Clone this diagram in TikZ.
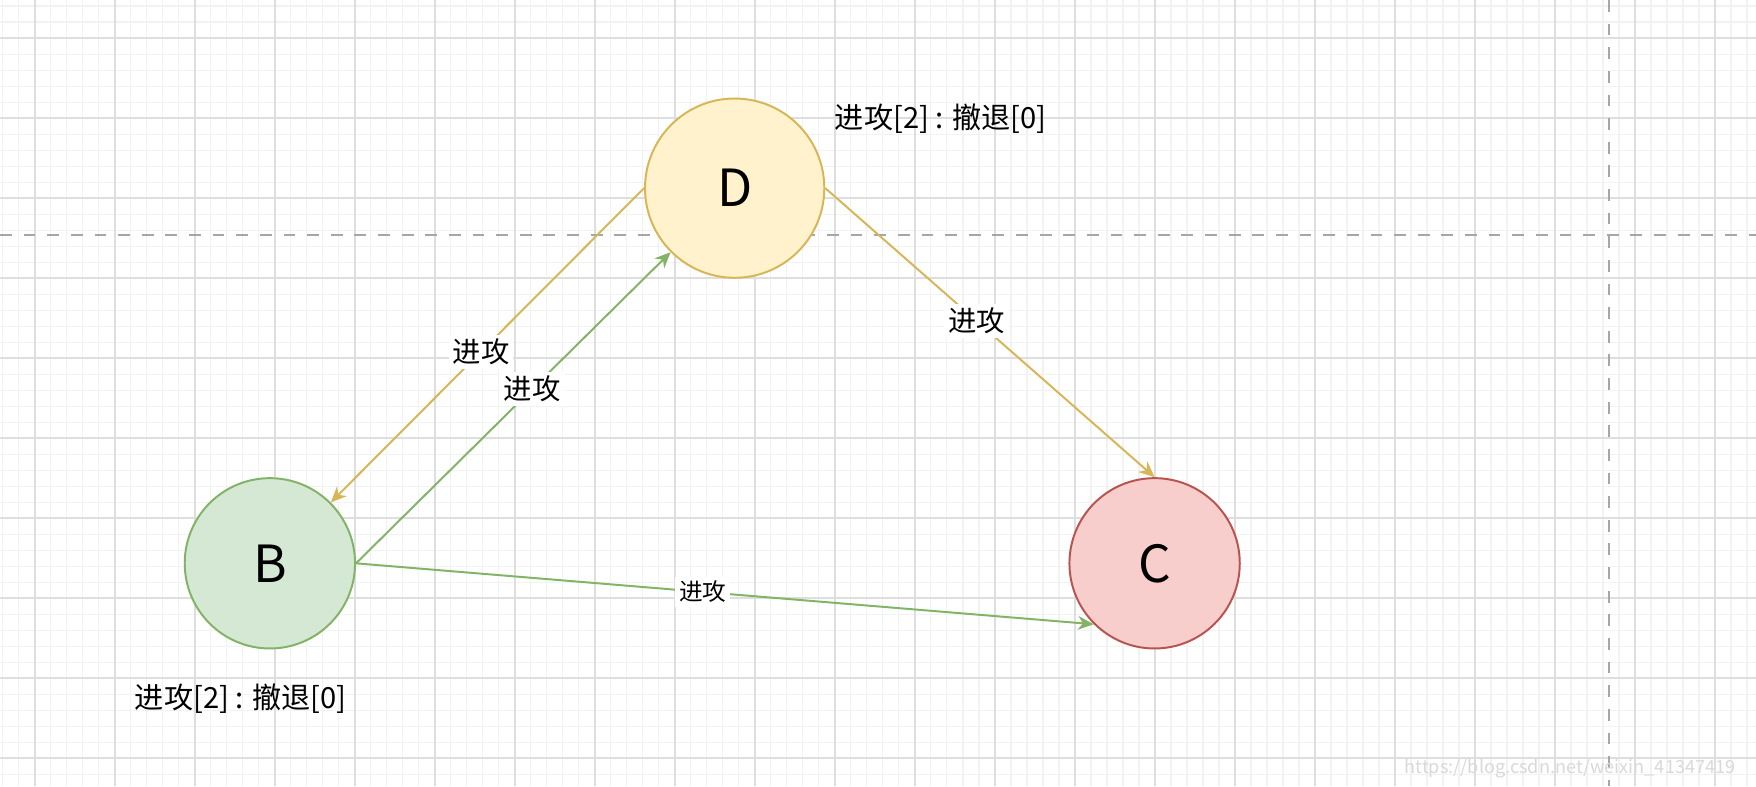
\documentclass[tikz,border=0pt]{standalone}
\usepackage{fontspec}
\setmainfont{Noto Sans CJK SC}
\usetikzlibrary{arrows.meta}

\tikzset{
  state/.style={circle, minimum size=#1, inner sep=0pt, line width=0.5pt, font=\fontsize{13}{13}\selectfont},
  edgelbl/.style={fill=white, text=black, inner sep=1pt, font=\fontsize{7.2}{8}\selectfont},
  arr/.style={-{Stealth[length=4pt,width=3.5pt]}, line width=0.5pt},
}
\definecolor{gfill}{HTML}{D5E8D4}\definecolor{gline}{HTML}{82B366}
\definecolor{yfill}{HTML}{FFF2CC}\definecolor{yline}{HTML}{D6B656}
\definecolor{rfill}{HTML}{F8CECC}\definecolor{rline}{HTML}{B85450}

\begin{document}
\begin{tikzpicture}[x=0.01cm, y=-0.01cm]
\useasboundingbox (0,0) rectangle (1568,702);
\fill[white] (0,0) rectangle (1568,702);
% grid
\foreach \i in {-2,...,108}
  \draw[black!5, line width=0.3pt] ({31+\i*14.29},0) -- ({31+\i*14.29},702);
\foreach \i in {-2,...,47}
  \draw[black!5, line width=0.3pt] (0,{34+\i*14.29}) -- (1568,{34+\i*14.29});
\foreach \i in {0,...,21}
  \draw[black!13, line width=0.4pt] ({31+\i*71.45},0) -- ({31+\i*71.45},702);
\foreach \i in {0,...,9}
  \draw[black!13, line width=0.4pt] (0,{34+\i*71.45}) -- (1568,{34+\i*71.45});
\draw[black!35, dashed, line width=0.5pt] (0,210) -- (1568,210);
\draw[black!35, dashed, line width=0.5pt] (1437,0) -- (1437,702);

% states
\node[state=1.6cm, draw=yline, fill=yfill] (D) at (656,168) {D};
\node[state=1.52cm, draw=gline, fill=gfill] (B) at (241,503) {B};
\node[state=1.52cm, draw=rline, fill=rfill] (C) at (1031,503) {C};

% edges
\draw[arr, yline] (D.west) -- node[edgelbl, pos=0.52] {进攻} (B.north east);
\draw[arr, gline] (B.east) -- node[edgelbl, pos=0.56] {进攻} (D.225);
\draw[arr, yline] (D.east) -- node[edgelbl, pos=0.46] {进攻} (C.north);
\draw[arr, gline] (B.east) -- node[edgelbl, pos=0.47, font=\fontsize{6}{7}\selectfont] {进攻} (C.225);

% counters
\node[font=\fontsize{7.4}{9}\selectfont] (Dcount) at (840,106) {进攻[2] : 撤退[0]};
\node[font=\fontsize{7.4}{9}\selectfont] (Bcount) at (215,624) {进攻[2] : 撤退[0]};
\node[font=\fontsize{4.6}{5}\selectfont, text=black!15, anchor=east] (mark) at (1562,686) {https://blog.csdn.net/weixin\_41347419};
\end{tikzpicture}
\end{document}
